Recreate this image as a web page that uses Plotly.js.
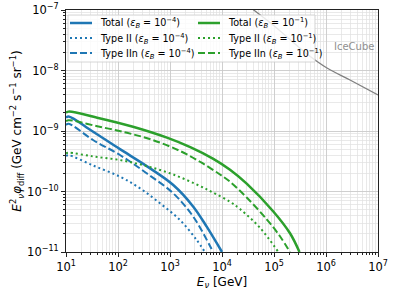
<!DOCTYPE html>
<html><head><meta charset="utf-8">
<script src="https://cdn.plot.ly/plotly-3.0.1.min.js"></script>
<style>html,body{margin:0;padding:0;background:#fff}#c{width:396px;height:293px}</style>
</head><body><div id="c"></div>
<script>
// Blue: eps_B = 1e-4 ; Green: eps_B = 1e-1
const E_blueTotal = [10, 11.2, 31.6, 109, 356, 1156, 2805, 5080, 10000];
const F_blueTotal = [1.66e-9, 1.74e-9, 1.0e-9, 5.01e-10, 2.63e-10, 1.28e-10, 5.61e-11, 2.62e-11, 1.0e-11];
const E_blueII = [10, 11.2, 33.1, 109, 265, 643, 1556, 3258, 4677];
const F_blueII = [3.89e-10, 3.98e-10, 2.69e-10, 1.76e-10, 1.13e-10, 6.38e-11, 3.38e-11, 1.58e-11, 1.0e-11];
const E_blueIIn = [10, 11.2, 33.1, 109, 356, 1156, 2805, 5875, 6714];
const F_blueIIn = [1.26e-9, 1.32e-9, 7.10e-10, 4.01e-10, 2.00e-10, 9.33e-11, 3.83e-11, 1.26e-11, 1.0e-11];
const E_greenTotal = [10, 11.2, 39.8, 194, 875, 2512, 6808, 14260, 29850, 97050, 203200, 309000];
const F_greenTotal = [2.0e-9, 2.09e-9, 1.66e-9, 1.175e-9, 7.76e-10, 5.37e-10, 3.47e-10, 2.29e-10, 1.35e-10, 4.68e-11, 2.04e-11, 1.0e-11];
const E_greenII = [10, 11.2, 33.1, 109, 356, 1156, 3776, 6808, 14260, 22180, 53830, 121100];
const F_greenII = [4.27e-10, 4.37e-10, 3.80e-10, 3.31e-10, 2.63e-10, 1.91e-10, 1.23e-10, 9.55e-11, 6.76e-11, 5.13e-11, 2.51e-11, 1.0e-11];
const E_greenIIn = [10, 11.2, 39.8, 149, 471, 1556, 3981, 9162, 14260, 29850, 72440, 130300, 203200];
const F_greenIIn = [1.45e-9, 1.51e-9, 1.20e-9, 9.33e-10, 7.08e-10, 4.68e-10, 3.02e-10, 1.91e-10, 1.45e-10, 7.94e-11, 3.47e-11, 1.82e-11, 1.0e-11];
const E_iceCube = [25100, 95700, 431500, 1.045e6, 2.9e6, 1e7];
const F_iceCube = [1.37e-7, 5.65e-8, 1.875e-8, 1.10e-8, 6.97e-9, 3.94e-9];
const xTickVals = [1e1, 1e2, 1e3, 1e4, 1e5, 1e6, 1e7];
const xTickText = ['10<sup>1</sup>','10<sup>2</sup>','10<sup>3</sup>','10<sup>4</sup>','10<sup>5</sup>','10<sup>6</sup>','10<sup>7</sup>'];
const yTickVals = [1e-11, 1e-10, 1e-9, 1e-8, 1e-7];
const yTickText = ['10<sup>−11</sup>','10<sup>−10</sup>','10<sup>−9</sup>','10<sup>−8</sup>','10<sup>−7</sup>'];
const legendLabels = ['Total', 'Type II', 'Type IIn'];
const legendEps = ['4', '1'];

const BLUE = '#1f77b4', GREEN = '#2ca02c';
const DOT = '2px,3px', DASH = '7px,3px';
const eps = e => '(<i>ε<sub>B</sub></i> = 10<sup>−' + e + '</sup>)';
function tr(x, y, name, color, dash, w) {
  return {x, y, name, type: 'scatter', mode: 'lines', showlegend: false,
    line: {color, dash, width: w, shape: 'spline', smoothing: 1}};
}
const data = [
  tr(E_iceCube, F_iceCube, 'IceCube', '#808080', 'solid', 1.3),
  tr(E_blueTotal, F_blueTotal, 'Total ' + eps(4), BLUE, 'solid', 2.5),
  tr(E_blueII, F_blueII, 'Type II ' + eps(4), BLUE, DOT, 2),
  tr(E_blueIIn, F_blueIIn, 'Type IIn ' + eps(4), BLUE, DASH, 2),
  tr(E_greenTotal, F_greenTotal, 'Total ' + eps(1), GREEN, 'solid', 2.5),
  tr(E_greenII, F_greenII, 'Type II ' + eps(1), GREEN, DOT, 2),
  tr(E_greenIIn, F_greenIIn, 'Type IIn ' + eps(1), GREEN, DASH, 2)
];

// plot area in pixels: x 66..378, y 10..252
const L = 66, R = 378, T = 10, B = 252;
const px = p => (p - L) / (R - L);
const py = p => (B - p) / (B - T);

const shapes = [{type: 'rect', xref: 'paper', yref: 'paper', layer: 'above',
  x0: px(68), x1: px(315), y0: py(62), y1: py(15),
  fillcolor: 'rgba(255,255,255,0.82)', line: {color: '#cccccc', width: 0.8}}];
const annotations = [{x: Math.log10(3.5e6), y: Math.log10(2.5e-8), xref: 'x', yref: 'y', text: 'IceCube',
  showarrow: false, font: {family: 'DejaVu Sans', size: 10, color: '#909090'}}];
const rowsY = [23, 38, 53];
const cols = [{c: BLUE, x0: 70, x1: 92, tx: 98}, {c: GREEN, x0: 198, x1: 220, tx: 226}];
const styles = [['solid', 2.5], [DOT, 2], [DASH, 2]];
cols.forEach((col, ci) => {
  rowsY.forEach((ry, ri) => {
    shapes.push({type: 'line', xref: 'paper', yref: 'paper', layer: 'above',
      x0: px(col.x0), x1: px(col.x1), y0: py(ry), y1: py(ry),
      line: {color: col.c, dash: styles[ri][0], width: styles[ri][1]}});
    annotations.push({xref: 'paper', yref: 'paper', x: px(col.tx), y: py(ry + 0.5),
      xanchor: 'left', yanchor: 'middle', showarrow: false,
      text: legendLabels[ri] + ' ' + eps(legendEps[ci]),
      font: {family: 'DejaVu Sans', size: 9.6, color: '#000'}});
  });
});

const axBase = {
  type: 'log', showline: true, mirror: true, linecolor: '#222', linewidth: 1,
  ticks: 'outside', ticklen: 4, tickcolor: '#222', gridcolor: '#c8c8c8', gridwidth: 0.8,
  zeroline: false, tickfont: {family: 'DejaVu Sans', size: 11.5, color: '#000'},
  minor: {dtick: 'D1', showgrid: true, gridcolor: '#e0e0e0', gridwidth: 0.7, ticks: 'outside', ticklen: 2, tickcolor: '#222'}
};
const layout = {
  width: 396, height: 293, paper_bgcolor: '#fff', plot_bgcolor: '#fff',
  margin: {l: L, r: 396 - R, t: T, b: 293 - B},
  font: {family: 'DejaVu Sans', color: '#000'},
  showlegend: false,
  xaxis: Object.assign({}, axBase, {range: [1, 7], tickvals: xTickVals, ticktext: xTickText,
    title: {text: '<i>E<sub>ν</sub></i> [GeV]', font: {size: 12}, standoff: 4}}),
  yaxis: Object.assign({}, axBase, {range: [-11, -7], tickvals: yTickVals, ticktext: yTickText,
    title: {text: '<i>E</i><sup>2</sup><sub><i>ν</i></sub><i>φ</i><sub>diff</sub> (GeV cm<sup>−2</sup> s<sup>−1</sup> sr<sup>−1</sup>)', font: {size: 12}, standoff: 2}}),
  shapes, annotations
};
Plotly.newPlot('c', data, layout, {staticPlot: true});
</script></body></html>
